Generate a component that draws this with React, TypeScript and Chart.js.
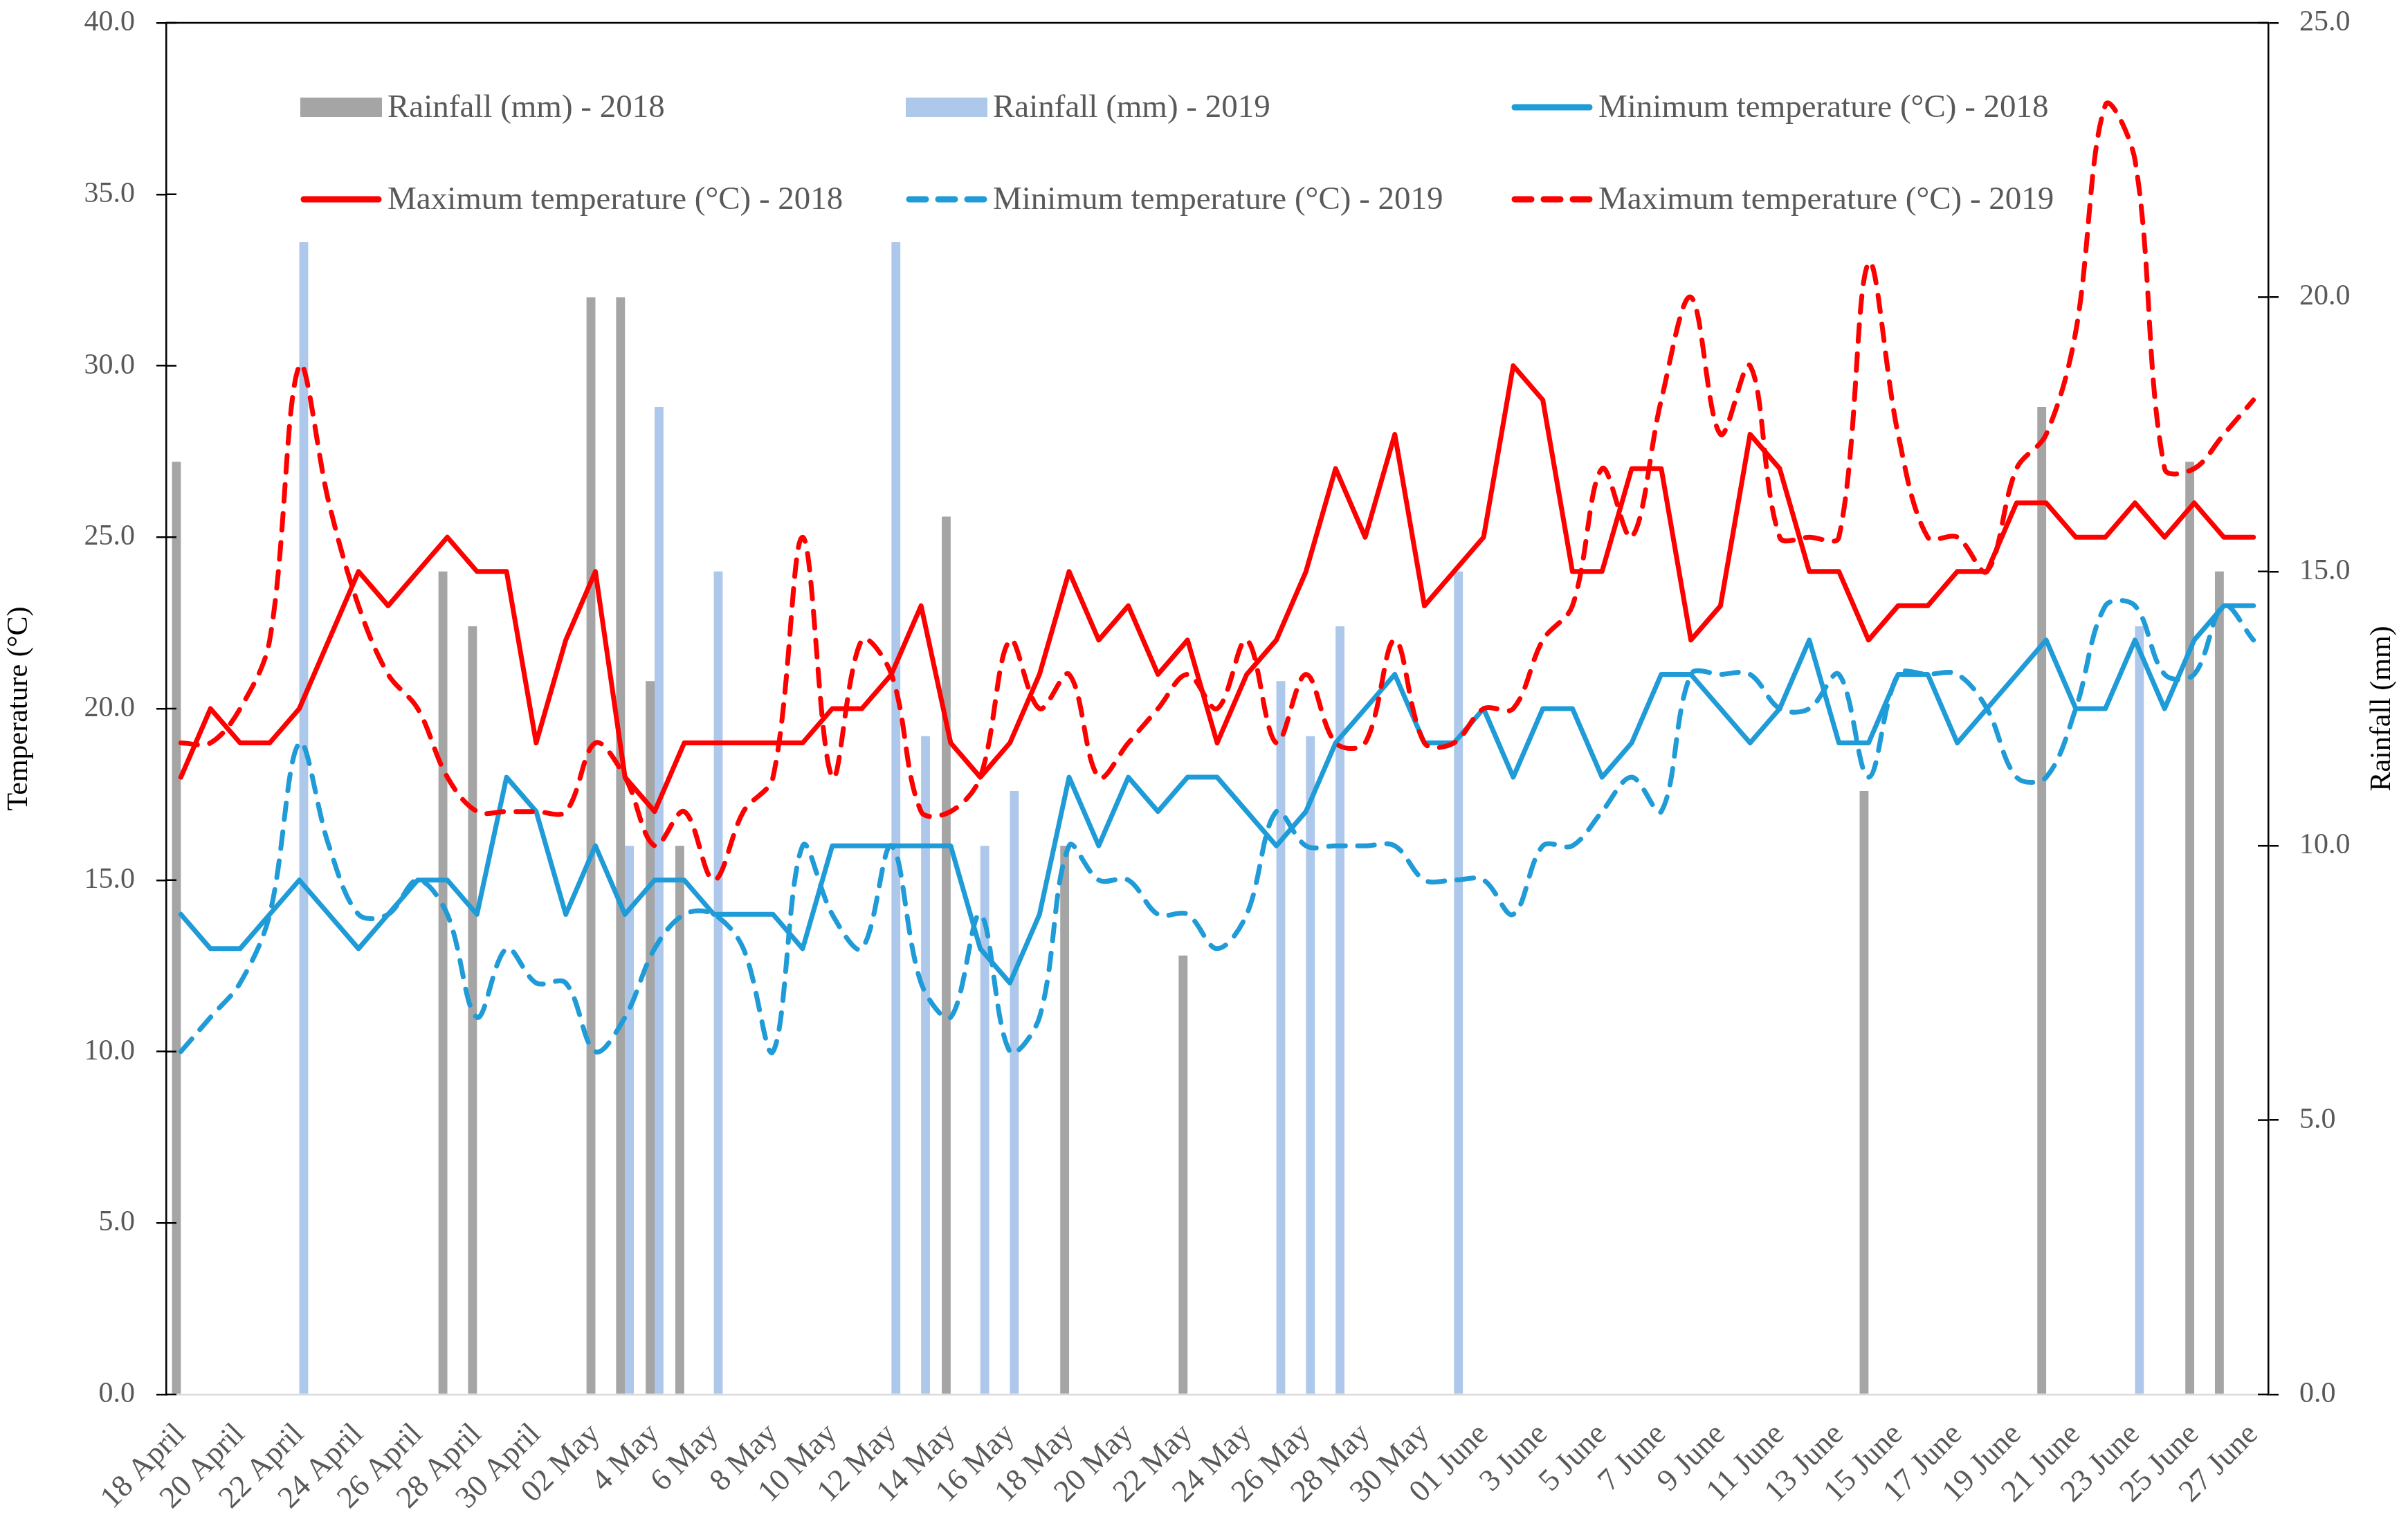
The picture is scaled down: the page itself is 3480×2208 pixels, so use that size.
import React, { useEffect, useRef } from "react";
import { Chart, registerables } from "chart.js";

Chart.register(...registerables);

// ---------- data ----------
const categories = [
  "18 April", "19 April", "20 April", "21 April", "22 April", "23 April", "24 April", "25 April",
  "26 April", "27 April", "28 April", "29 April", "30 April",
  "01 May", "02 May", "3 May", "4 May", "5 May", "6 May", "7 May", "8 May", "9 May", "10 May",
  "11 May", "12 May", "13 May", "14 May", "15 May", "16 May", "17 May", "18 May", "19 May",
  "20 May", "21 May", "22 May", "23 May", "24 May", "25 May", "26 May", "27 May", "28 May",
  "29 May", "30 May", "31 May",
  "01 June", "02 June", "3 June", "4 June", "5 June", "6 June", "7 June", "8 June", "9 June",
  "10 June", "11 June", "12 June", "13 June", "14 June", "15 June", "16 June", "17 June",
  "18 June", "19 June", "20 June", "21 June", "22 June", "23 June", "24 June", "25 June",
  "26 June", "27 June",
];

const rain2018 = [
  17, null, null, null, null, null, null, null, null, 15,
  14, null, null, null, 20, 20, 13, 10, null, null,
  null, null, null, null, null, null, 16, null, null, null,
  10, null, null, null, 8, null, null, null, null, null,
  null, null, null, null, null, null, null, null, null, null,
  null, null, null, null, null, null, null, 11, null, null,
  null, null, null, 18, null, null, null, null, 17, 15,
  null,
];

const rain2019 = [
  null, null, null, null, 21, null, null, null, null, null,
  null, null, null, null, null, 10, 18, null, 15, null,
  null, null, null, null, 21, 12, null, 10, 11, null,
  null, null, null, null, null, null, null, 13, 12, 14,
  null, null, null, 15, null, null, null, null, null, null,
  null, null, null, null, null, null, null, null, null, null,
  null, null, null, null, null, null, 14, null, null, null,
  null,
];

const minTemp2018 = [
  14, 13, 13, 14, 15, 14, 13, 14, 15, 15,
  14, 18, 17, 14, 16, 14, 15, 15, 14, 14,
  14, 13, 16, 16, 16, 16, 16, 13, 12, 14,
  18, 16, 18, 17, 18, 18, 17, 16, 17, 19,
  20, 21, 19, 19, 20, 18, 20, 20, 18, 19,
  21, 21, 20, 19, 20, 22, 19, 19, 21, 21,
  19, 20, 21, 22, 20, 20, 22, 20, 22, 23,
  23,
];

const maxTemp2018 = [
  18, 20, 19, 19, 20, 22, 24, 23, 24, 25,
  24, 24, 19, 22, 24, 18, 17, 19, 19, 19,
  19, 19, 20, 20, 21, 23, 19, 18, 19, 21,
  24, 22, 23, 21, 22, 19, 21, 22, 24, 27,
  25, 28, 23, 24, 25, 30, 29, 24, 24, 27,
  27, 22, 23, 28, 27, 24, 24, 22, 23, 23,
  24, 24, 26, 26, 25, 25, 26, 25, 26, 25,
  25,
];

const minTemp2019 = [
  10, 11, 12, 14, 19, 16, 14, 14, 15, 14,
  11, 13, 12, 12, 10, 11, 13, 14, 14, 13,
  10, 16, 14, 13, 16, 12, 11, 14, 10, 11,
  16, 15, 15, 14, 14, 13, 14, 17, 16, 16,
  16, 16, 15, 15, 15, 14, 16, 16, 17, 18,
  17, 21, 21, 21, 20, 20, 21, 18, 21, 21,
  21, 20, 18, 18, 20, 23, 23, 21, 21, 23,
  22,
];

const maxTemp2019 = [
  19, 19, 20, 22, 30, 26, 23, 21, 20, 18,
  17, 17, 17, 17, 19, 18, 16, 17, 15, 17,
  18, 25, 18, 22, 21, 17, 17, 18, 22, 20,
  21, 18, 19, 20, 21, 20, 22, 19, 21, 19,
  19, 22, 19, 19, 20, 20, 22, 23, 27, 25,
  29, 32, 28, 30, 25, 25, 25, 33, 28, 25,
  25, 24, 27, 28, 31, 37.6, 36, 27, 27, 28,
  29,
];

const seriesLabels = [
  "Rainfall (mm) - 2018",
  "Rainfall (mm) - 2019",
  "Minimum temperature (°C) - 2018",
  "Maximum temperature (°C) - 2018",
  "Minimum temperature (°C) - 2019",
  "Maximum temperature (°C) - 2019",
];

const leftTitle = "Temperature (°C)";
const rightTitle = "Rainfall (mm)";

// ---------- styles ----------
const FONT = "'Liberation Serif', 'Times New Roman', serif";
const TEXT_GREY = "#595959";
const C_RAIN18 = "#A5A5A5";
const C_RAIN19 = "#ADC8EA";
const C_BLUE = "#1F9BD7";
const C_RED = "#FF0000";
const DASH = [24, 18];

const W = 3480;
const H = 2208;
const PLOT_LEFT = 240;
const PLOT_RIGHT = 3278;
const PLOT_TOP = 33;
const PLOT_BOTTOM = 2015;

const LEGEND_COLS = [434, 1309, 2184];
const LEGEND_ROWS = [155, 288];

const decorPlugin = {
  id: "decor",
  afterDraw(chart: any) {
    const { ctx, chartArea } = chart;
    const { left, right, top, bottom } = chartArea;
    ctx.save();
    // top border line
    ctx.strokeStyle = "#000";
    ctx.lineWidth = 2.5;
    ctx.setLineDash([]);
    ctx.beginPath();
    ctx.moveTo(left - 1, top);
    ctx.lineTo(right + 1, top);
    ctx.stroke();
    // inner halves of tick marks
    ["y", "y1"].forEach((id) => {
      const sc = chart.scales[id];
      const x0 = id === "y" ? left : right;
      const dir = id === "y" ? 1 : -1;
      sc.ticks.forEach((t: any) => {
        const y = sc.getPixelForValue(t.value);
        ctx.beginPath();
        ctx.moveTo(x0, y);
        ctx.lineTo(x0 + dir * 15, y);
        ctx.stroke();
      });
    });
    // right axis title (reads bottom to top)
    ctx.save();
    ctx.fillStyle = "#000";
    ctx.font = `42px ${FONT}`;
    ctx.textAlign = "center";
    ctx.textBaseline = "middle";
    ctx.translate(3443, (top + bottom) / 2);
    ctx.rotate(-Math.PI / 2);
    ctx.fillText(rightTitle, 0, 0);
    ctx.restore();
    // legend in the plot area, 3 columns x 2 rows
    chart.data.datasets.forEach((ds: any, k: number) => {
      const x = LEGEND_COLS[k % 3];
      const y = LEGEND_ROWS[Math.floor(k / 3)];
      if (ds.type === "bar") {
        ctx.fillStyle = ds.backgroundColor;
        ctx.fillRect(x, y - 14, 118, 28);
      } else {
        ctx.strokeStyle = ds.borderColor;
        ctx.lineWidth = 9;
        ctx.lineCap = "round";
        ctx.setLineDash(ds.borderDash || []);
        ctx.beginPath();
        ctx.moveTo(x + 5, y);
        ctx.lineTo(x + 113, y);
        ctx.stroke();
        ctx.setLineDash([]);
      }
      ctx.fillStyle = TEXT_GREY;
      ctx.font = `47px ${FONT}`;
      ctx.textAlign = "left";
      ctx.textBaseline = "middle";
      ctx.fillText(ds.label, x + 126, y + 2);
    });
    ctx.restore();
  },
};

function lineDs(label: string, data: any[], color: string, dashed: boolean, order: number) {
  return {
    type: "line" as const,
    label,
    data,
    yAxisID: "y",
    borderColor: color,
    backgroundColor: color,
    borderWidth: 7,
    borderDash: dashed ? DASH : [],
    borderCapStyle: "round" as const,
    borderJoinStyle: "round" as const,
    pointRadius: 0,
    pointHoverRadius: 0,
    tension: dashed ? 0.35 : 0,
    fill: false,
    order,
  };
}

const zeroPad = (s: any) => {
  s.paddingTop = 0;
  s.paddingBottom = 0;
};

export default function App() {
  const canvasRef = useRef<HTMLCanvasElement | null>(null);

  useEffect(() => {
    if (!canvasRef.current) return;
    const chart = new Chart(canvasRef.current, {
      type: "bar",
      data: {
        labels: categories,
        datasets: [
          {
            type: "bar",
            label: seriesLabels[0],
            data: rain2018,
            yAxisID: "y1",
            backgroundColor: C_RAIN18,
            categoryPercentage: 0.6,
            barPercentage: 1.0,
            order: 9,
          },
          {
            type: "bar",
            label: seriesLabels[1],
            data: rain2019,
            yAxisID: "y1",
            backgroundColor: C_RAIN19,
            categoryPercentage: 0.6,
            barPercentage: 1.0,
            order: 10,
          },
          lineDs(seriesLabels[2], minTemp2018, C_BLUE, false, 4),
          lineDs(seriesLabels[3], maxTemp2018, C_RED, false, 3),
          lineDs(seriesLabels[4], minTemp2019, C_BLUE, true, 2),
          lineDs(seriesLabels[5], maxTemp2019, C_RED, true, 1),
        ] as any,
      },
      options: {
        animation: false,
        responsive: true,
        maintainAspectRatio: false,
        devicePixelRatio: 1,
        layout: { padding: { top: PLOT_TOP, left: 0, right: 0, bottom: 0 } },
        plugins: {
          legend: { display: false },
          tooltip: { enabled: false },
          title: { display: false },
        },
        scales: {
          x: {
            type: "category",
            offset: true,
            grid: { display: false, drawTicks: false },
            border: { display: true, color: "#D9D9D9", width: 2.5 },
            ticks: {
              autoSkip: false,
              maxRotation: 45,
              minRotation: 45,
              padding: 32,
              color: TEXT_GREY,
              font: { family: FONT, size: 45 },
              callback: (_v: any, i: number) => (i % 2 === 0 ? categories[i] : ""),
            },
            afterFit: (s: any) => {
              s.height = H - PLOT_BOTTOM;
              s.paddingLeft = 0;
              s.paddingRight = 0;
            },
          },
          y: {
            type: "linear",
            position: "left",
            min: 0,
            max: 40,
            grid: {
              display: true,
              drawOnChartArea: false,
              drawTicks: true,
              tickLength: 14,
              color: "#000",
              lineWidth: 2.5,
            },
            border: { display: true, color: "#000", width: 2.5 },
            ticks: {
              stepSize: 5,
              padding: 31,
              color: TEXT_GREY,
              font: { family: FONT, size: 42 },
              callback: (v: any) => Number(v).toFixed(1),
            },
            title: {
              display: true,
              text: leftTitle,
              color: "#000",
              font: { family: FONT, size: 42 },
              padding: { top: 3, bottom: 0 },
            },
            afterFit: (s: any) => {
              s.width = PLOT_LEFT;
              zeroPad(s);
            },
          },
          y1: {
            type: "linear",
            position: "right",
            min: 0,
            max: 25,
            grid: {
              display: true,
              drawOnChartArea: false,
              drawTicks: true,
              tickLength: 15,
              color: "#000",
              lineWidth: 2.5,
            },
            border: { display: true, color: "#000", width: 2.5 },
            ticks: {
              stepSize: 5,
              padding: 30,
              color: TEXT_GREY,
              font: { family: FONT, size: 42 },
              callback: (v: any) => Number(v).toFixed(1),
            },
            afterFit: (s: any) => {
              s.width = W - PLOT_RIGHT;
              zeroPad(s);
            },
          },
        },
      } as any,
      plugins: [decorPlugin],
    });
    return () => chart.destroy();
  }, []);

  return (
    <div
      style={{
        position: "fixed",
        left: 0,
        top: 0,
        width: `${W}px`,
        height: `${H}px`,
        background: "#fff",
        overflow: "hidden",
      }}
    >
      <canvas ref={canvasRef} />
    </div>
  );
}
